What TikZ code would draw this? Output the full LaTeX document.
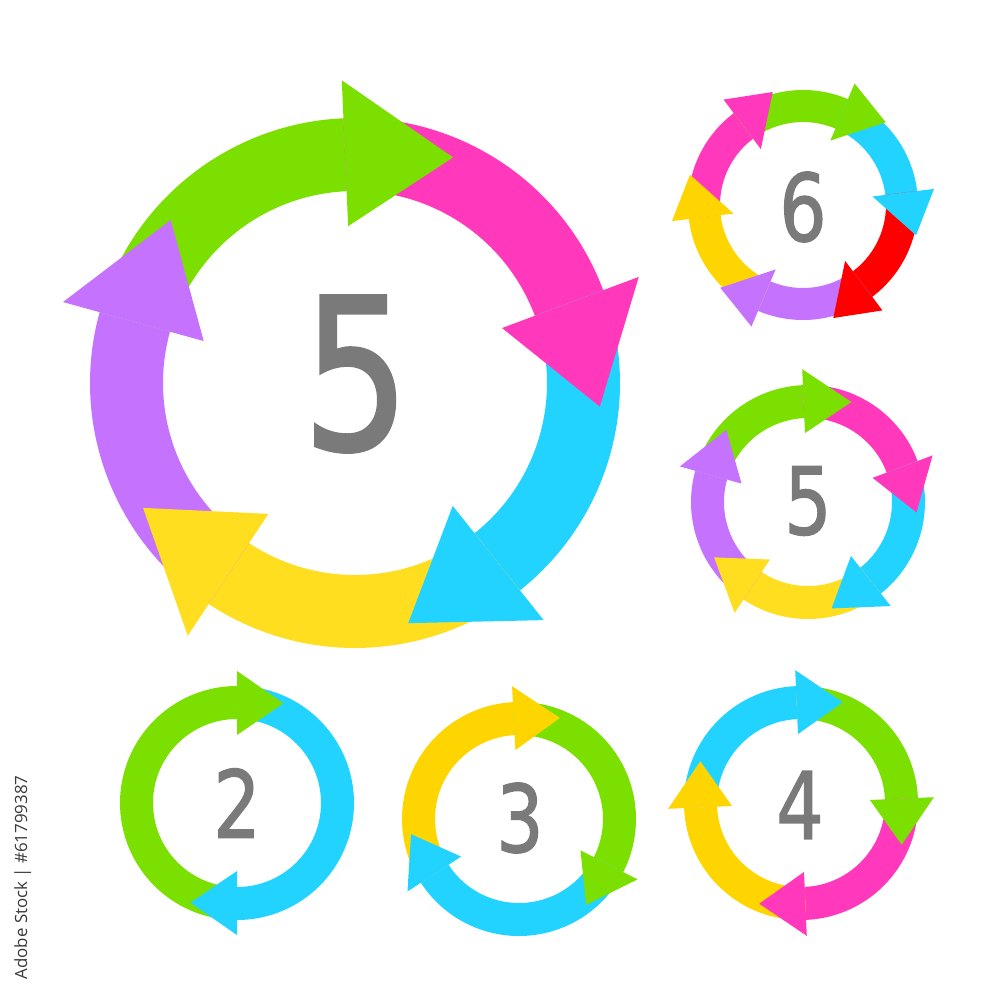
\documentclass[tikz,border=0pt]{standalone}
\usepackage{fontspec}
\setmainfont{DejaVu Sans}
\newfontfamily\numfont[FakeBold=1.5]{DejaVu Sans}
\newfontfamily\stockfont{Open Sans}
\definecolor{cgreen}{HTML}{7BDF00}
\definecolor{cpink}{HTML}{FF38BC}
\definecolor{ccyan}{HTML}{22D3FF}
\definecolor{cyellow}{HTML}{FFDD1F}
\definecolor{cgold}{HTML}{FFD500}
\definecolor{cpurple}{HTML}{C572FF}
\definecolor{cred}{HTML}{FF0000}
\definecolor{cgray}{HTML}{7A7A7A}
\definecolor{cstock}{HTML}{3A3A3A}
\newcommand{\setring}[6]{\def\rin{#1}\def\rout{#2}\def\hin{#3}\def\hout{#4}\def\htip{#5}\def\hang{#6}}
\newcommand{\ringbody}[3]{\fill[#1] (#2:\rout) arc[start angle=#2, end angle=#3, radius=\rout] -- (#3:\rin) arc[start angle=#3, end angle=#2, radius=\rin] -- cycle;}
\newcommand{\ringhead}[2]{\fill[#1] (#2:\hin) -- ({#2-\hang}:\htip) -- (#2:\hout) -- cycle;}
\begin{document}
\begin{tikzpicture}[x=0.1mm, y=0.1mm,
  numlabel/.style={text=cgray, inner sep=0pt, xscale=0.8},
  bignum/.style={numlabel, font=\numfont\fontsize{60}{60}\selectfont},
  smallnum/.style={numlabel, font=\numfont\fontsize{26.5}{26.5}\selectfont}]
\fill[white] (0,0) rectangle (1000,-1000);
\useasboundingbox (0,0) rectangle (1000,-1000);

% big five
\begin{scope}[shift={(355,-383)}]
\setring{192}{265}{157}{303}{246}{26}
\ringbody{cgreen}{164.5}{92.5}
\ringbody{cpink}{92.5}{20.5}
\ringbody{ccyan}{20.5}{-51.5}
\ringbody{cyellow}{-51.5}{-123.5}
\ringbody{cpurple}{-123.5}{-195.5}
\ringhead{cgreen}{92.5}
\ringhead{cpink}{20.5}
\ringhead{ccyan}{-51.5}
\ringhead{cyellow}{-123.5}
\ringhead{cpurple}{-195.5}
\end{scope}
\node[bignum] (big5) at (356,-374) {5};

% six
\begin{scope}[shift={(803,-205)}]
\setring{83}{115}{70}{132}{117}{22}
\ringbody{cpink}{187}{127}
\ringbody{cgreen}{127}{67}
\ringbody{ccyan}{67}{7}
\ringbody{cred}{7}{-53}
\ringbody{cpurple}{-53}{-113}
\ringbody{cgold}{-113}{-173}
\ringhead{cpink}{127}
\ringhead{cgreen}{67}
\ringhead{ccyan}{7}
\ringhead{cred}{-53}
\ringhead{cpurple}{-113}
\ringhead{cgold}{-173}
\end{scope}
\node[smallnum] (six) at (803,-207) {6};

% small five
\begin{scope}[shift={(808,-502)}]
\setring{84}{117}{69}{133}{109}{26}
\ringbody{cgreen}{164.5}{92.5}
\ringbody{cpink}{92.5}{20.5}
\ringbody{ccyan}{20.5}{-51.5}
\ringbody{cyellow}{-51.5}{-123.5}
\ringbody{cpurple}{-123.5}{-195.5}
\ringhead{cgreen}{92.5}
\ringhead{cpink}{20.5}
\ringhead{ccyan}{-51.5}
\ringhead{cyellow}{-123.5}
\ringhead{cpurple}{-195.5}
\end{scope}
\node[smallnum] (five) at (808,-501) {5};

% two
\begin{scope}[shift={(237,-803)}]
\setring{84}{117}{68}{132}{110}{25}
\ringbody{cgreen}{270}{90}
\ringbody{ccyan}{90}{-90}
\ringhead{cgreen}{90}
\ringhead{ccyan}{-90}
\end{scope}
\node[smallnum] (two) at (237,-803) {2};

% three
\begin{scope}[shift={(519,-819)}]
\setring{84}{117}{69}{133}{109}{25}
\ringbody{cgold}{213}{93}
\ringbody{cgreen}{93}{-27}
\ringbody{ccyan}{-27}{-147}
\ringhead{cgold}{93}
\ringhead{cgreen}{-27}
\ringhead{ccyan}{-147}
\end{scope}
\node[smallnum] (three) at (520,-818) {3};

% four
\begin{scope}[shift={(801,-803)}]
\setring{84}{117}{69}{133}{109}{25}
\ringbody{ccyan}{182.5}{92.5}
\ringbody{cgreen}{92.5}{2.5}
\ringbody{cpink}{2.5}{-87.5}
\ringbody{cgold}{-87.5}{-177.5}
\ringhead{ccyan}{92.5}
\ringhead{cgreen}{2.5}
\ringhead{cpink}{-87.5}
\ringhead{cgold}{-177.5}
\end{scope}
\node[smallnum] (four) at (800,-805) {4};

\node[rotate=90, anchor=base west, inner sep=0pt, text=cstock,
  font=\stockfont\fontsize{4.8}{5}\selectfont] (stock) at (27,-980) {Adobe Stock | \#61799387};
\end{tikzpicture}
\end{document}
